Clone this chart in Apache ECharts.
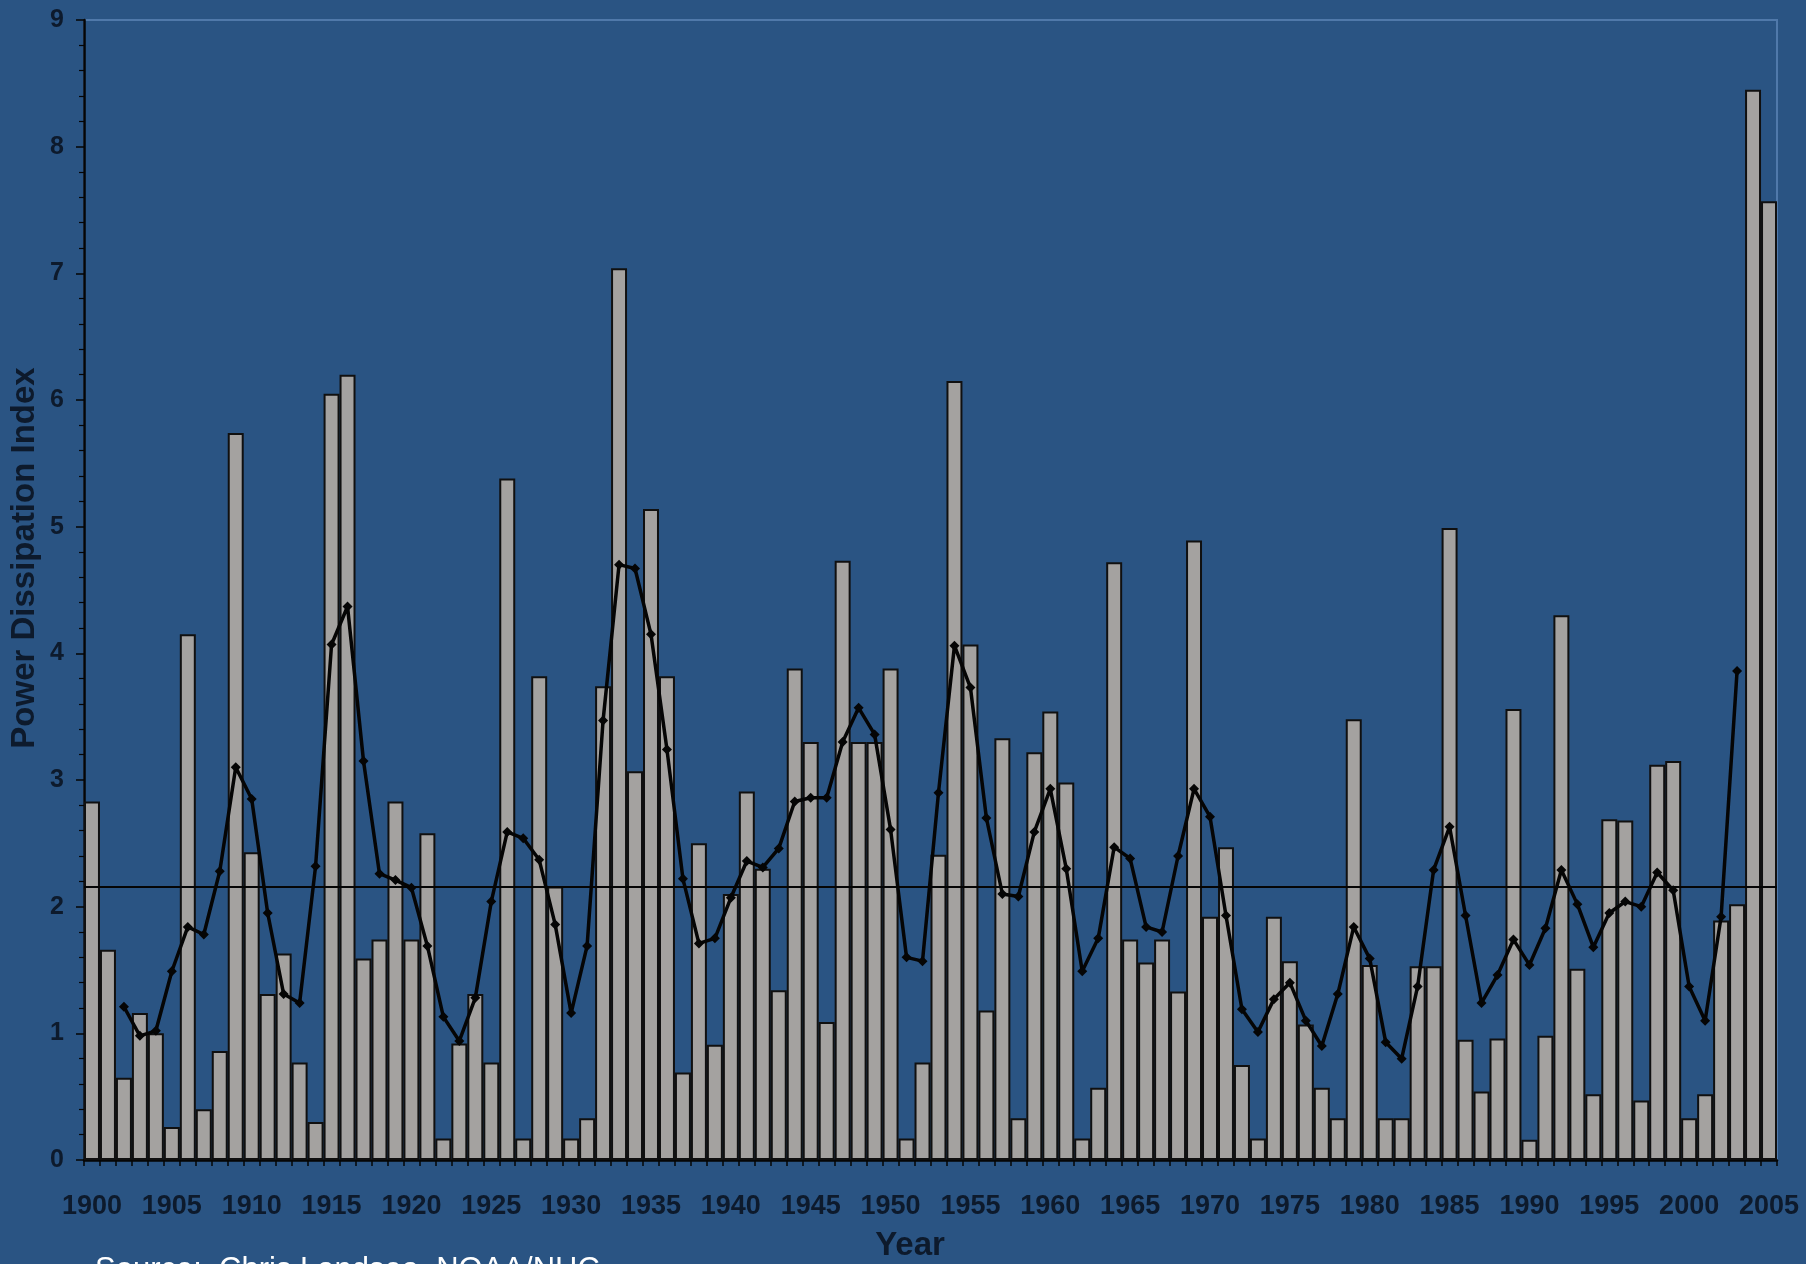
<!DOCTYPE html>
<html>
<head>
<meta charset="utf-8">
<script src="https://cdn.jsdelivr.net/npm/echarts@6/dist/echarts.min.js"></script>
<style>
  html, body { margin: 0; padding: 0; background: #2A5483; }
  #chart { width: 1806px; height: 1264px; }
</style>
</head>
<body>
<div id="chart"></div>
<script>
// Annual Atlantic power dissipation index, 1900-2005
const firstYear = 1900;
const years = Array.from({ length: 106 }, (_, i) => String(firstYear + i));

const pdiValues = [
  2.83, 1.66, 0.65, 1.16, 1.00, 0.26, 4.15, 0.40, 0.86, 5.74, // 1900-1909
  2.43, 1.31, 1.63, 0.77, 0.30, 6.05, 6.20, 1.59, 1.74, 2.83, // 1910-1919
  1.74, 2.58, 0.17, 0.92, 1.31, 0.77, 5.38, 0.17, 3.82, 2.16, // 1920-1929
  0.17, 0.33, 3.74, 7.04, 3.07, 5.14, 3.82, 0.69, 2.50, 0.91, // 1930-1939
  2.10, 2.91, 2.30, 1.34, 3.88, 3.30, 1.09, 4.73, 3.30, 3.30, // 1940-1949
  3.88, 0.17, 0.77, 2.41, 6.15, 4.07, 1.18, 3.33, 0.33, 3.22, // 1950-1959
  3.54, 2.98, 0.17, 0.57, 4.72, 1.74, 1.56, 1.74, 1.33, 4.89, // 1960-1969
  1.92, 2.47, 0.75, 0.17, 1.92, 1.57, 1.07, 0.57, 0.33, 3.48, // 1970-1979
  1.54, 0.33, 0.33, 1.53, 1.53, 4.99, 0.95, 0.54, 0.96, 3.56, // 1980-1989
  0.16, 0.98, 4.30, 1.51, 0.52, 2.69, 2.68, 0.47, 3.12, 3.15, // 1990-1999
  0.33, 0.52, 1.89, 2.02, 8.45, 7.57                          // 2000-2005
];

// Smoothed series, available 1902-2003
const smoothStartYear = 1902;
const smoothValues = [
  1.21, 0.98, 1.02, 1.49, 1.84, 1.78, 2.28, 3.10,             // 1902-1909
  2.85, 1.95, 1.31, 1.24, 2.32, 4.07, 4.37, 3.15, 2.26, 2.21, // 1910-1919
  2.15, 1.69, 1.13, 0.94, 1.28, 2.04, 2.59, 2.54, 2.37, 1.86, // 1920-1929
  1.16, 1.69, 3.47, 4.70, 4.67, 4.15, 3.24, 2.22, 1.71, 1.75, // 1930-1939
  2.07, 2.36, 2.31, 2.46, 2.83, 2.86, 2.86, 3.30, 3.57, 3.36, // 1940-1949
  2.61, 1.60, 1.57, 2.90, 4.06, 3.73, 2.70, 2.10, 2.08, 2.59, // 1950-1959
  2.93, 2.30, 1.49, 1.75, 2.47, 2.38, 1.84, 1.80, 2.40, 2.93, // 1960-1969
  2.71, 1.93, 1.19, 1.01, 1.27, 1.40, 1.10, 0.90, 1.31, 1.84, // 1970-1979
  1.59, 0.93, 0.80, 1.37, 2.29, 2.63, 1.93, 1.24, 1.46, 1.74, // 1980-1989
  1.54, 1.83, 2.29, 2.02, 1.68, 1.95, 2.04, 2.00, 2.27, 2.13, // 1990-1999
  1.37, 1.10, 1.92, 3.86                                      // 2000-2003
];

// Long-term mean
const meanValue = 2.16;

const yTicks = { min: 0, max: 9, interval: 1 };

const smoothData = years.map(y => {
  const i = Number(y) - smoothStartYear;
  return (i >= 0 && i < smoothValues.length) ? smoothValues[i] : null;
});

const textDark = '#0D1A2C';
const chart = echarts.init(document.getElementById('chart'), null, { renderer: 'canvas' });

chart.setOption({
  backgroundColor: '#2A5483',
  animation: false,
  grid: {
    left: 84, right: 29, top: 20, bottom: 104,
    show: true,
    borderColor: '#5079AA',
    borderWidth: 2,
    backgroundColor: 'transparent'
  },
  xAxis: {
    type: 'category',
    data: years,
    boundaryGap: true,
    axisLine: { show: true, lineStyle: { color: '#050505', width: 2.5 } },
    axisTick: { show: true, interval: 0, length: 6, lineStyle: { color: '#050505', width: 1.5 } },
    axisLabel: {
      interval: 4,
      margin: 33,
      color: textDark,
      fontSize: 27,
      fontWeight: 'bold',
      fontFamily: "'Liberation Sans', Arial, sans-serif"
    },
    splitLine: { show: false }
  },
  yAxis: {
    type: 'value',
    min: yTicks.min,
    max: yTicks.max,
    interval: yTicks.interval,
    axisLine: { show: true, lineStyle: { color: '#050505', width: 2.5 } },
    axisTick: { show: true, length: 8, lineStyle: { color: '#050505', width: 1.5 } },
    minorTick: { show: true, splitNumber: 5, length: 5, lineStyle: { color: '#050505', width: 1.2 } },
    axisLabel: {
      margin: 20,
      color: textDark,
      fontSize: 25,
      fontWeight: 'bold',
      fontFamily: "'Liberation Sans', Arial, sans-serif"
    },
    splitLine: { show: false }
  },
  series: [
    {
      name: 'PDI',
      type: 'bar',
      data: pdiValues,
      barCategoryGap: '0%',
      itemStyle: { color: '#A4A2A0', borderColor: '#101010', borderWidth: 2 },
      markLine: {
        silent: true,
        symbol: ['none', 'none'],
        label: { show: false },
        lineStyle: { color: '#050505', width: 2.2, type: 'solid' },
        data: [{ yAxis: meanValue }]
      },
      z: 2
    },
    {
      name: 'Smoothed',
      type: 'line',
      data: smoothData,
      connectNulls: false,
      symbol: 'diamond',
      symbolSize: 10,
      itemStyle: { color: '#050505' },
      lineStyle: { color: '#050505', width: 3.5 },
      z: 5
    }
  ],
  graphic: [
    {
      type: 'text',
      x: 25, y: 558,
      rotation: Math.PI / 2,
      style: {
        text: 'Power Dissipation Index',
        font: "bold 33px 'Liberation Sans', Arial, sans-serif",
        fill: textDark,
        textAlign: 'center',
        textVerticalAlign: 'middle'
      }
    },
    {
      type: 'text',
      x: 910, y: 1246,
      style: {
        text: 'Year',
        font: "bold 33px 'Liberation Sans', Arial, sans-serif",
        fill: textDark,
        textAlign: 'center',
        textVerticalAlign: 'middle'
      }
    },
    {
      type: 'text',
      x: 95, y: 1255,
      style: {
        text: 'Source:  Chris Landsea, NOAA/NHC',
        font: "31px 'Liberation Sans', Arial, sans-serif",
        fill: '#FFFFFF',
        textAlign: 'left',
        textVerticalAlign: 'top'
      }
    }
  ]
});
</script>
</body>
</html>
